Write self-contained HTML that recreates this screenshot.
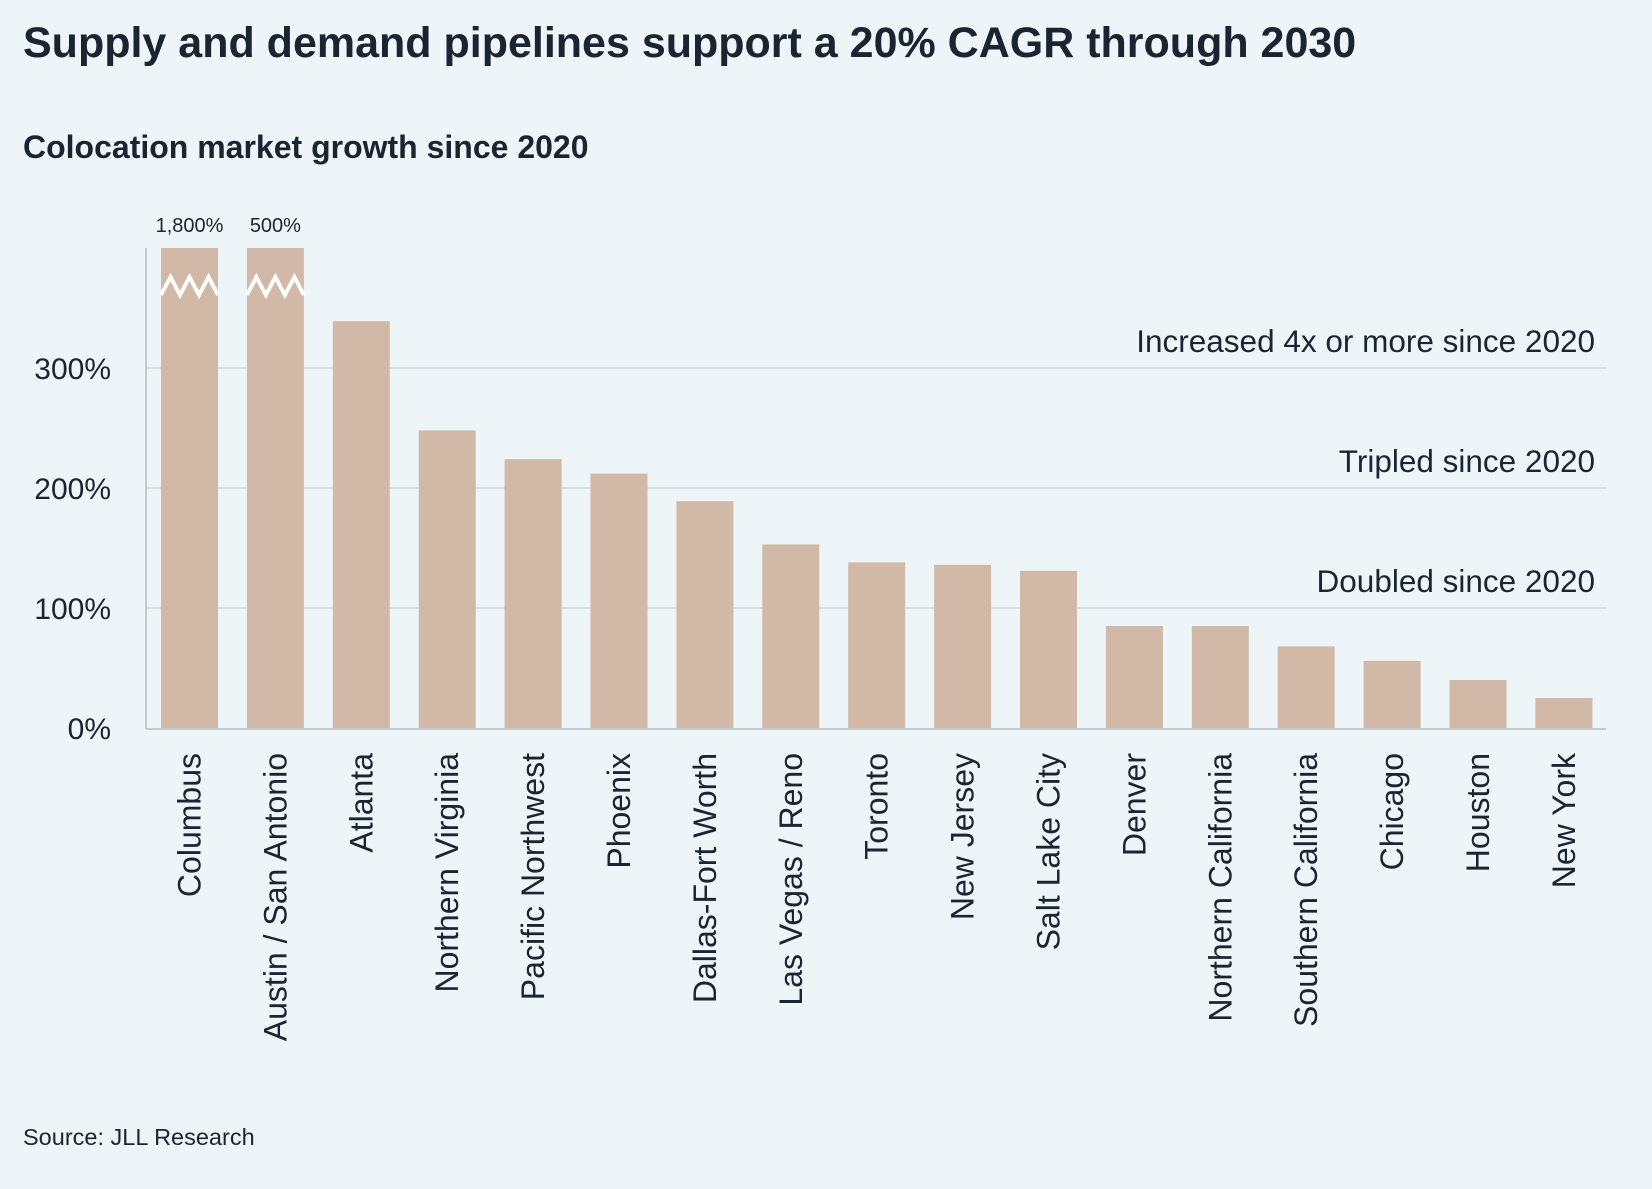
<!DOCTYPE html>
<html><head><meta charset="utf-8"><style>
html,body{margin:0;padding:0;background:#eef5f9;}
body{width:1652px;height:1184px;overflow:hidden;font-family:"Liberation Sans",sans-serif;color:#1b2431;}
svg text{font-family:"Liberation Sans",sans-serif;}
</style></head><body>
<svg id="chart" width="1652" height="1184" xmlns="http://www.w3.org/2000/svg">
<rect width="1652" height="1184" fill="#eef5f9"/>
<text x="23" y="57" font-size="43" font-weight="bold" fill="#1b2431">Supply and demand pipelines support a 20% CAGR through 2030</text>
<text x="23" y="158" font-size="32" font-weight="bold" fill="#1b2431">Colocation market growth since 2020</text>
<g id="grid"></g><g id="bars"></g><g id="labels"></g>
<text x="23" y="1145" font-size="23.5" fill="#1b2431">Source: JLL Research</text>
</svg>
<script>
const categories=["Columbus","Austin / San Antonio","Atlanta","Northern Virginia","Pacific Northwest","Phoenix","Dallas-Fort Worth","Las Vegas / Reno","Toronto","New Jersey","Salt Lake City","Denver","Northern California","Southern California","Chicago","Houston","New York"];
const values=[1800,500,339,248,224,212,189,153,138,136,131,85,85,68,56,40,25];
const yTicks=[0,100,200,300];
const tickLabels=["0%","100%","200%","300%"];
const bandValues=[300,200,100];
const bandLabels=["Increased 4x or more since 2020","Tripled since 2020","Doubled since 2020"];
const brokenLabels=["1,800%","500%"];

const NS="http://www.w3.org/2000/svg";
const X0=146,X1=1606,BASE=728,PX=1.2,CAP=400;
const y=v=>BASE-PX*Math.min(v,CAP);
const bx=i=>161+i*85.9;
const BW=57;
function mk(tag,attrs,parent){const e=document.createElementNS(NS,tag);for(const k in attrs)e.setAttribute(k,attrs[k]);parent.appendChild(e);return e;}
const grid=document.getElementById('grid'),bars=document.getElementById('bars'),labels=document.getElementById('labels');
yTicks.forEach((t,i)=>{
  if(t>0){const l=mk('line',{x1:X0,x2:X1,y1:y(t),y2:y(t),stroke:'#d3d9de','stroke-width':1.5},grid);
  
  }
  const tx=mk('text',{x:111,y:y(t)+11,'font-size':30,'text-anchor':'end',fill:'#1b2431'},grid);
  tx.textContent=tickLabels[i];
  
  
});
bandValues.forEach((v,i)=>{
  const t=mk('text',{x:1595,y:y(v)-16,'font-size':31.5,'text-anchor':'end',fill:'#1b2431'},grid);
  t.textContent=bandLabels[i];
  
  
});
values.forEach((v,i)=>{
  const r=mk('rect',{x:bx(i),y:y(v),width:BW,height:BASE-y(v),fill:'#d2b8a6'},bars);
  
  
  if(v>CAP){
    const zx=bx(i),zy=286,h=9,w=BW/6;
    let d='M'+zx+' '+(zy+h);
    for(let k=1;k<=6;k++)d+=' L'+(zx+k*w)+' '+(zy+(k%2?-h:h));
    const z=mk('path',{d:d,stroke:'#ffffff','stroke-width':4,fill:'none'},bars);
    
    
    const lt=mk('text',{x:zx+BW/2,y:232,'font-size':20,'text-anchor':'middle',fill:'#1b2431'},labels);
    lt.textContent=brokenLabels[i];
    
    
  }
  const cx=bx(i)+BW/2+11;
  const c=mk('text',{x:0,y:0,'font-size':32,'text-anchor':'end',fill:'#1b2431',transform:'translate('+cx+',753) rotate(-90)'},labels);
  c.textContent=categories[i];
  
  
});
const ax=mk('line',{x1:X0,x2:X0,y1:248,y2:BASE+1,stroke:'#c4c9cd','stroke-width':2},grid);


const bl=mk('line',{x1:X0,x2:X1,y1:BASE+1,y2:BASE+1,stroke:'#c4c9cd','stroke-width':2},bars);


</script>
</body></html>
